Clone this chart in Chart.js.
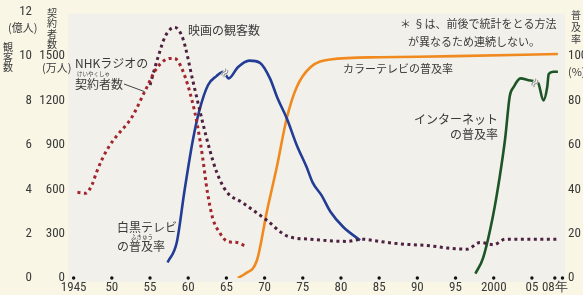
<!DOCTYPE html>
<html>
<head>
<meta charset="utf-8">
<script src="https://cdn.jsdelivr.net/npm/chart.js@4"></script>
<style>
  html, body { margin: 0; padding: 0; background: #f9f6e6; }
</style>
</head>
<body>
<canvas id="chart" width="583" height="295"></canvas>
<script>
// NHK radio contracts (万人).
const radioYears = [1945.5, 1946.6, 1947.4, 1948.0, 1948.7, 1949.7, 1950.7, 1952.6, 1954.3, 1955.9, 1957.6, 1958.2, 1959.3, 1960.5, 1961.2, 1961.9, 1962.5, 1963.2, 1964.1, 1965.1, 1966.4, 1967.4];
const radioValues = [580, 573, 630, 715, 800, 895, 965, 1085, 1260, 1420, 1485, 1485, 1400, 1200, 1035, 810, 585, 405, 308, 248, 240, 218];

// Cinema attendance (億人).
const movieYears = [1955, 1956, 1957, 1958.2, 1959.3, 1960.6, 1961.9, 1962.8, 1963.7, 1965, 1967.1, 1970.3, 1972.9, 1975.9, 1980.8, 1982.7, 1985, 1987.3, 1991.7, 1994, 1996.5, 1998.2, 2000, 2001.5, 2003.4, 2005.5, 2008.4];
const movieValues = [8.7, 9.9, 10.9, 11.3, 10.8, 8.9, 7.0, 5.8, 4.8, 3.9, 3.4, 2.6, 1.9, 1.75, 1.65, 1.75, 1.65, 1.55, 1.45, 1.35, 1.3, 1.6, 1.5, 1.75, 1.75, 1.75, 1.75];

// Black & white TV ownership (%).
const bwYears = [1957.3, 1958.5, 1959.5, 1960.6, 1961.5, 1962.6, 1963.7, 1964.6, 1965.3, 1966.5, 1968, 1969.4, 1970.7, 1971.7, 1972.9, 1974.2, 1975.5, 1976.3, 1977.5, 1978.6, 1980.3, 1982.5];
const bwValues = [7, 16, 39, 62, 76, 87, 91, 93, 90, 95, 98, 97, 90, 81, 72, 60, 50, 43, 37, 30, 23, 17];

// Colour TV ownership (%).
const colorYears = [1966.5, 1967.5, 1969, 1970.3, 1971.6, 1972.9, 1974.2, 1976, 1978.6, 1985, 1995, 2008.4];
const colorValues = [0, 2, 8, 30, 50, 72, 86, 95, 98.5, 99.5, 100, 101];

// Internet use (%).
const netYears = [1997.6, 1998.6, 1999.9, 2000.8, 2001.5, 2002.1, 2002.6, 2003.5, 2004.8, 2005.8, 2006.5, 2007.0, 2007.2, 2007.8, 2008.4];
const netValues = [2, 9, 28, 46, 63, 82, 86, 90, 89, 88, 80, 86, 92, 93, 93];

// Axis ticks.
const xTickYears = [1945, 1950, 1955, 1960, 1965, 1970, 1975, 1980, 1985, 1990, 1995, 2000, 2005, 2008];
const xTickLabels = ['1945', '50', '55', '60', '65', '70', '75', '80', '85', '90', '95', '2000', '05', '08年'];
const xDotYears = [1945, 1950, 1955, 1960, 1965, 1970, 1975, 1980, 1985, 1990, 1995, 2000, 2005, 2008, 2009];
// Where the survey method changed (the ≈ marks).
const breakPoints = [{ x: 1964.8, y: 92.5 }, { x: 2005.4, y: 88 }];

const numFont = "'Liberation Sans Narrow', 'Roboto Condensed', 'Liberation Sans', sans-serif";
const jpFont = "'Noto Sans CJK JP', sans-serif";
const textColor = '#3a3a3a';

function points(xs, ys) {
  return xs.map((x, i) => ({ x: x, y: ys[i] }));
}

function vText(ctx, str, x, y, step) {
  [...str].forEach((ch, i) => ctx.fillText(ch, x, y + i * step));
}

const decorPlugin = {
  id: 'decor',
  beforeDraw(chart) {
    const { ctx, chartArea: a } = chart;
    ctx.save();
    ctx.fillStyle = '#f9f6e6';
    ctx.fillRect(0, 0, chart.width, chart.height);
    ctx.fillStyle = '#f1f0eb';
    ctx.fillRect(a.left + 2, a.top + 2, a.right - a.left - 1, a.bottom - a.top + 2);
    ctx.restore();
  },
  afterDatasetsDraw(chart) {
    const { ctx, scales } = chart;
    ctx.save();
    // Tick dots on the base line.
    ctx.fillStyle = '#111';
    xDotYears.forEach((yr) => {
      ctx.beginPath();
      ctx.arc(scales.x.getPixelForValue(yr), scales.y.getPixelForValue(0), 1.7, 0, Math.PI * 2);
      ctx.fill();
    });
    // Break marks.
    breakPoints.forEach((p) => {
      const px = scales.x.getPixelForValue(p.x);
      const py = scales.yp.getPixelForValue(p.y);
      ctx.save();
      ctx.translate(px, py);
      ctx.rotate(-0.9);
      ctx.fillStyle = '#f1f0eb';
      ctx.fillRect(-4, -2.5, 8, 5);
      ctx.fillStyle = '#777';
      ctx.font = '11px ' + jpFont;
      ctx.textAlign = 'center';
      ctx.textBaseline = 'middle';
      ctx.fillText('≈', 0, 0);
      ctx.restore();
    });
    // Leader line for the radio label.
    const lx = scales.x.getPixelForValue(1954.3);
    const ly = scales.yr.getPixelForValue(1260);
    ctx.strokeStyle = '#444';
    ctx.lineWidth = 1;
    ctx.beginPath();
    ctx.moveTo(124, 84);
    ctx.lineTo(lx, ly);
    ctx.stroke();
    ctx.restore();
  },
  afterDraw(chart) {
    const ctx = chart.ctx;
    ctx.save();
    ctx.fillStyle = textColor;
    ctx.textBaseline = 'middle';
    ctx.textAlign = 'left';
    ctx.font = '12px ' + jpFont;
    ctx.fillText('映画の観客数', 188, 30);
    ctx.fillText('NHKラジオの', 75, 63);
    ctx.fillText('契約者数', 75, 84);
    ctx.fillText('白黒テレビ', 117, 227);
    ctx.fillText('の普及率', 117, 246);
    ctx.font = '11px ' + jpFont;
    ctx.fillText('カラーテレビの普及率', 343, 69);
    ctx.fillText('＊ §は、前後で統計をとる方法', 400, 24);
    ctx.fillText('が異なるため連続しない。', 408, 42);
    ctx.textAlign = 'right';
    ctx.font = '12px ' + jpFont;
    ctx.fillText('インターネット', 498, 119);
    ctx.fillText('の普及率', 498, 134);
    // Ruby.
    ctx.textAlign = 'left';
    ctx.font = '5.5px ' + jpFont;
    ctx.fillText('けいやくしゃ', 77, 74);
    ctx.fillText('ふきゅう', 131, 237);
    // Axis unit labels.
    ctx.font = '11px ' + jpFont;
    ctx.fillText('(億人)', 8, 28);
    ctx.fillText('(万人)', 42, 68);
    ctx.fillText('(%)', 568, 72);
    ctx.textAlign = 'center';
    ctx.font = '10px ' + jpFont;
    vText(ctx, '観客数', 8, 47, 10);
    vText(ctx, '契約者数', 52, 13, 10.5);
    vText(ctx, '普及率', 576, 15, 12);
    ctx.restore();
  }
};

const dotted = { borderWidth: 3, borderDash: [3, 3.5], borderCapStyle: 'butt', pointRadius: 0, fill: false, cubicInterpolationMode: 'monotone' };
const solid = { borderWidth: 2.6, pointRadius: 0, fill: false, cubicInterpolationMode: 'monotone' };

new Chart(document.getElementById('chart'), {
  type: 'line',
  data: {
    datasets: [
      { ...dotted, label: 'NHKラジオの契約者数', data: points(radioYears, radioValues), borderColor: '#a3242c', yAxisID: 'yr' },
      { ...dotted, label: '映画の観客数', data: points(movieYears, movieValues), borderColor: '#4e2140', yAxisID: 'y' },
      { ...solid, label: '白黒テレビの普及率', data: points(bwYears, bwValues), borderColor: '#233c94', yAxisID: 'yp' },
      { ...solid, label: 'カラーテレビの普及率', data: points(colorYears, colorValues), borderColor: '#f08a1e', yAxisID: 'yp' },
      { ...solid, label: 'インターネットの普及率', data: points(netYears, netValues), borderColor: '#1d5526', yAxisID: 'yp' }
    ]
  },
  options: {
    responsive: false,
    animation: false,
    layout: { padding: { top: 10, left: 0, right: 0, bottom: 0 } },
    plugins: { legend: { display: false }, tooltip: { enabled: false } },
    scales: {
      x: {
        type: 'linear',
        min: 1944,
        max: 2009.2,
        afterBuildTicks: (s) => { s.ticks = xTickYears.map((v) => ({ value: v })); },
        afterFit: (s) => { s.height = 17; },
        ticks: {
          autoSkip: false,
          maxRotation: 0,
          padding: 2,
          color: textColor,
          font: { family: numFont, size: 13 },
          callback: (v, i) => xTickLabels[i]
        },
        grid: { display: false, drawTicks: false },
        border: { display: false }
      },
      y: {
        position: 'left',
        weight: 2,
        min: 0,
        max: 12,
        afterFit: (s) => { s.width = 36; },
        ticks: { stepSize: 2, padding: 4, color: textColor, font: { family: numFont, size: 13 } },
        grid: { display: false, drawTicks: false },
        border: { display: false }
      },
      yr: {
        position: 'left',
        weight: 1,
        min: 0,
        max: 1800,
        afterFit: (s) => { s.width = 30; },
        ticks: { stepSize: 300, padding: 1, color: textColor, font: { family: numFont, size: 13 },
          callback: (v) => (v === 1800 ? '' : v) },
        grid: { display: false, drawTicks: false },
        border: { display: false }
      },
      yp: {
        position: 'right',
        min: 0,
        max: 120,
        afterFit: (s) => { s.width = 19; },
        ticks: { stepSize: 20, padding: 4, color: textColor, font: { family: numFont, size: 13 },
          callback: (v) => (v === 120 ? '' : v) },
        grid: { display: false, drawTicks: false },
        border: { display: false }
      }
    }
  },
  plugins: [decorPlugin]
});
</script>
</body>
</html>
